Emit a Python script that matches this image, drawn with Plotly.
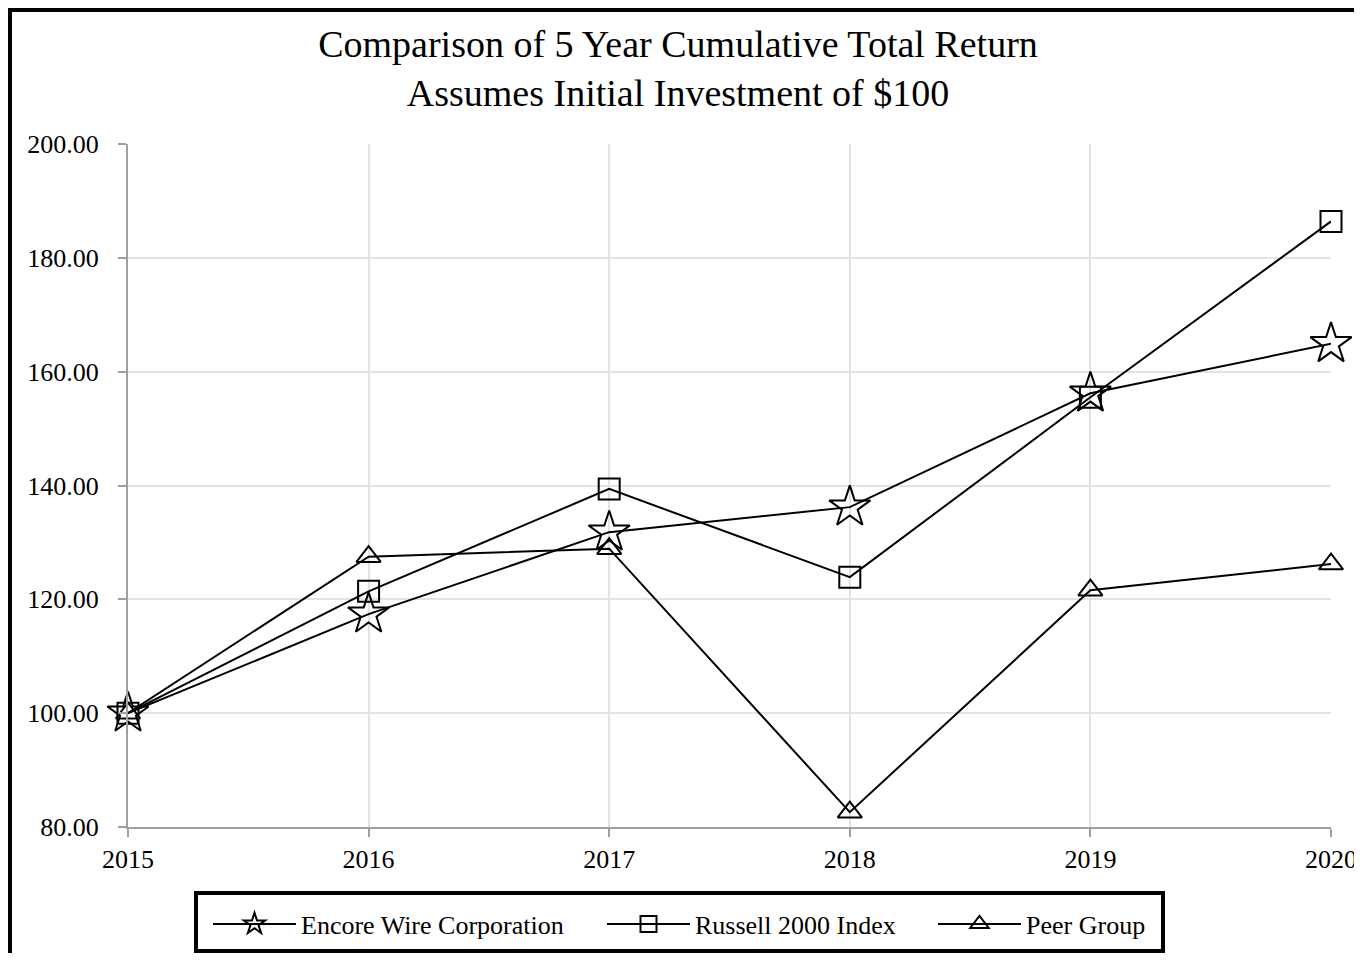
import plotly.graph_objects as go

years = [2015, 2016, 2017, 2018, 2019, 2020]
encore = [100.0, 117.4, 131.8, 136.2, 156.2, 164.9]
russell = [100.0, 121.4, 139.4, 123.9, 155.5, 186.4]
peer = [100.0, 127.5, 128.9, 82.6, 121.6, 126.2]
names = ["Encore Wire Corporation", "Russell 2000 Index", "Peer Group"]
y_ticks = [80, 100, 120, 140, 160, 180, 200]

FONT = "Liberation Serif, Times New Roman, serif"
W, H = 1354, 945
ML, MR, MT, MB = 120, 31, 136, 126
PW, PH = W - ML - MR, H - MT - MB


def px_x(fx):
    return (fx - ML) / PW


def px_y(fy):
    return (PH + MT - fy) / PH


fig = go.Figure()
series = [(encore, "star-open", 31), (russell, "square-open", 21), (peer, "triangle-up-open", 21)]
legend_ids = ["legend", "legend2", "legend3"]
for (vals, sym, size), name, lid in zip(series, names, legend_ids):
    fig.add_trace(go.Scatter(
        x=years, y=vals, name=name, mode="lines+markers",
        line=dict(color="black", width=2),
        marker=dict(symbol=sym, size=size, color="black", line=dict(color="black", width=2)),
        cliponaxis=False, legend=lid, showlegend=True,
    ))

axis_common = dict(
    showline=True, linecolor="#a0a0a0", linewidth=2,
    showgrid=True, gridcolor="#e3e3e3", gridwidth=1.5,
    ticks="outside", ticklen=8, tickwidth=2, tickcolor="#a0a0a0",
    tickfont=dict(family=FONT, size=26, color="black"),
    zeroline=False, automargin=False, ticklabeloverflow="allow",
)
fig.update_xaxes(range=[years[0], years[-1]], tickvals=years, ticklabelstandoff=0, **axis_common)
fig.update_yaxes(range=[y_ticks[0], y_ticks[-1]], tickvals=y_ticks, tickformat=".2f", ticklabelstandoff=14, **axis_common)

cx = px_x(670)
legend_style = dict(
    orientation="h", xanchor="left", yanchor="middle", y=px_y(916),
    font=dict(family=FONT, size=26, color="black"),
    bgcolor="rgba(0,0,0,0)", borderwidth=0, itemwidth=83,
)
legend_starts = [200, 594, 925]
fig.update_layout(
    width=W, height=H,
    margin=dict(l=ML, r=MR, t=MT, b=MB, pad=0, autoexpand=False),
    paper_bgcolor="white", plot_bgcolor="white",
    font=dict(family=FONT, color="black"),
    showlegend=True,
    title=dict(
        text="Comparison of 5 Year Cumulative Total Return<br>Assumes Initial Investment of $100",
        font=dict(family=FONT, size=38, color="black"),
        x=cx, xref="paper", xanchor="center",
        y=1 - 49 / H, yref="container", yanchor="top",
    ),
    legend=dict(x=px_x(legend_starts[0]), **legend_style),
    legend2=dict(x=px_x(legend_starts[1]), **legend_style),
    legend3=dict(x=px_x(legend_starts[2]), **legend_style),
    shapes=[
        dict(type="rect", xref="paper", yref="paper",
             x0=px_x(2), x1=1.3, y0=-0.4, y1=px_y(2),
             line=dict(color="black", width=4), fillcolor="rgba(0,0,0,0)"),
        dict(type="rect", xref="paper", yref="paper",
             x0=px_x(188), x1=px_x(1155), y0=px_y(943), y1=px_y(885),
             line=dict(color="black", width=4), fillcolor="rgba(0,0,0,0)"),
    ],
)

fig.write_html("out.html")
